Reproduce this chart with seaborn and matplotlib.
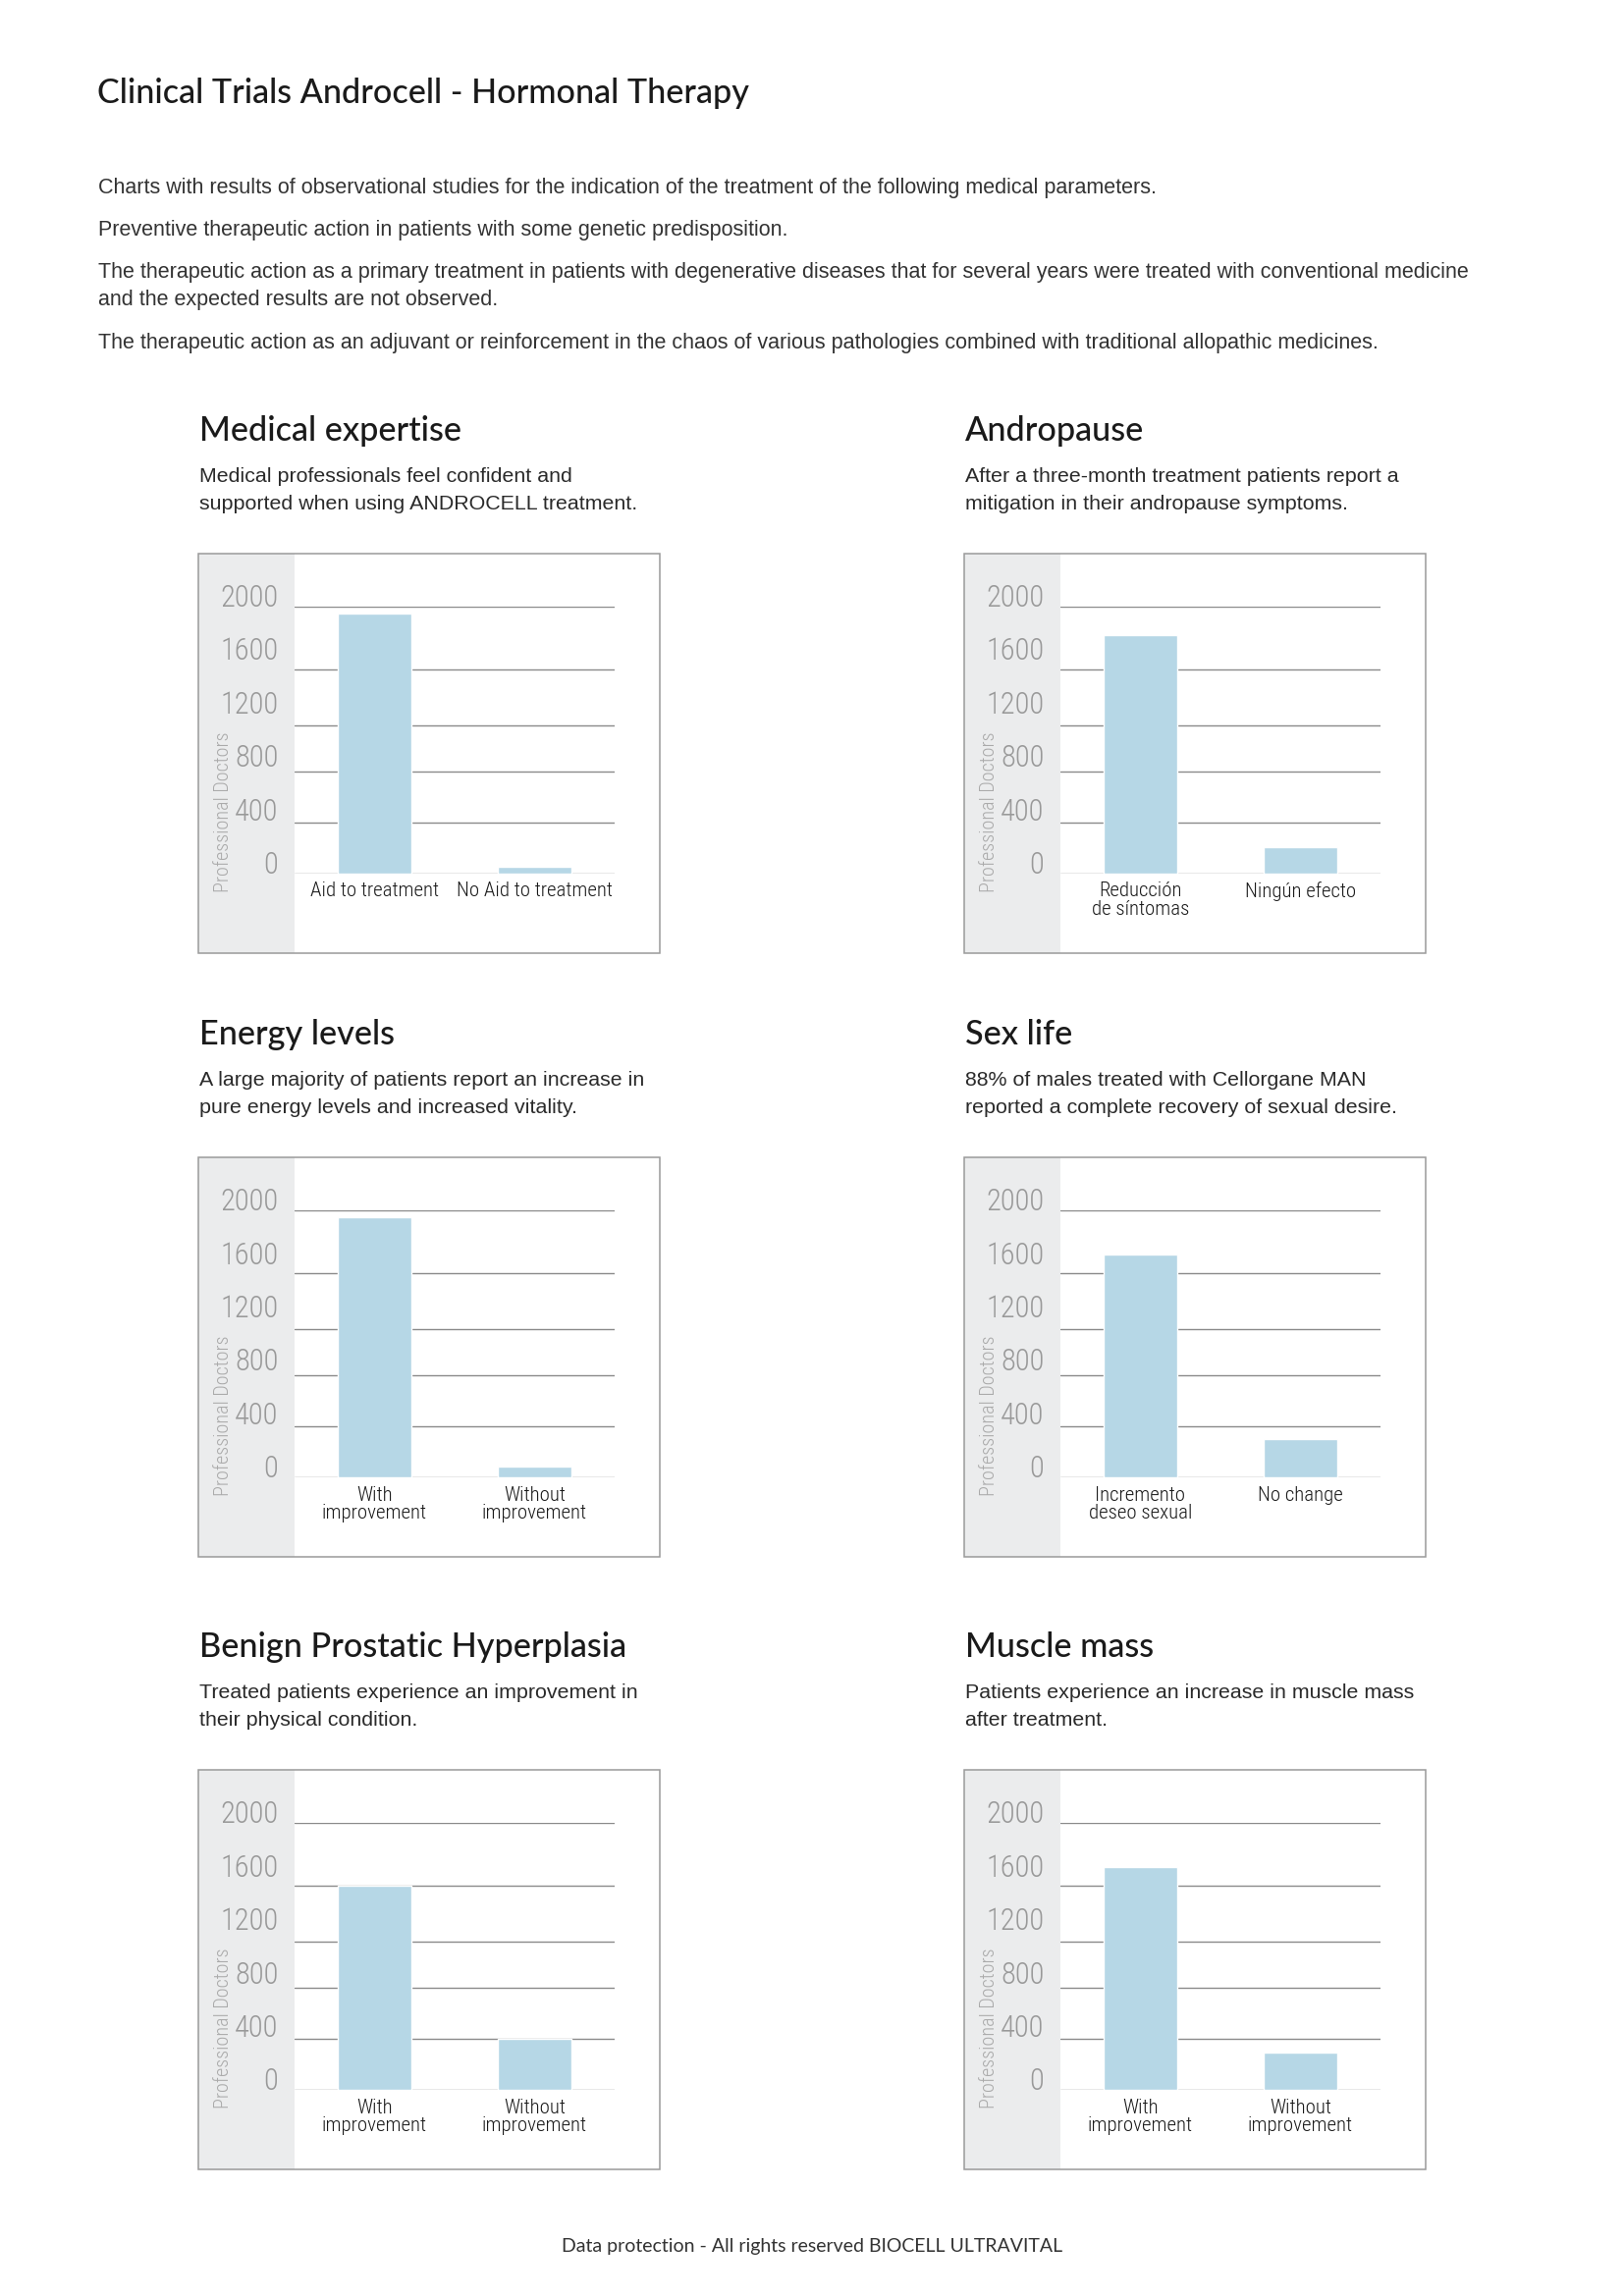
import os
import seaborn as sns
import matplotlib.pyplot as plt
from matplotlib.patches import Rectangle
from matplotlib import font_manager
from matplotlib.font_manager import FontProperties

# Daten der sechs Diagramme
panel_titles = ["Medical expertise", "Andropause", "Energy levels",
                "Sex life", "Benign Prostatic Hyperplasia", "Muscle mass"]
panel_notes = [
    "Medical professionals feel confident and\nsupported when using ANDROCELL treatment.",
    "After a three-month treatment patients report a\nmitigation in their andropause symptoms.",
    "A large majority of patients report an increase in\npure energy levels and increased vitality.",
    "88% of males treated with Cellorgane MAN\nreported a complete recovery of sexual desire.",
    "Treated patients experience an improvement in\ntheir physical condition.",
    "Patients experience an increase in muscle mass\nafter treatment.",
]
categories = [
    ["Aid to treatment", "No Aid to treatment"],
    ["Reducción\nde síntomas", "Ningún efecto"],
    ["With\nimprovement", "Without\nimprovement"],
    ["Incremento\ndeseo sexual", "No change"],
    ["With\nimprovement", "Without\nimprovement"],
    ["With\nimprovement", "Without\nimprovement"],
]
values = [
    [1948, 52],
    [1789, 201],
    [1949, 81],
    [1669, 287],
    [1530, 386],
    [1670, 283],
]
y_ticks = [0, 400, 800, 1200, 1600, 2000]
grid_levels = [0, 383, 765, 1110, 1529, 2000]
y_title = "Professional Doctors"

title = "Clinical Trials Androcell - Hormonal Therapy"
intro = [
    "Charts with results of observational studies for the indication of the treatment of the following medical parameters.",
    "Preventive therapeutic action in patients with some genetic predisposition.",
    "The therapeutic action as a primary treatment in patients with degenerative diseases that for several years were treated with conventional medicine",
    "and the expected results are not observed.",
    "The therapeutic action as an adjuvant or reinforcement in the chaos of various pathologies combined with traditional allopathic medicines.",
]
footer = "Data protection - All rights reserved BIOCELL ULTRAVITAL"

sns.set_style("white")
plt.rcParams["font.family"] = ["Liberation Sans", "DejaVu Sans"]


# schmale Schrift suchen (falls installiert)
def find_condensed(light):
    best, best_score = None, -99
    for f in font_manager.fontManager.ttflist:
        tag = (os.path.basename(f.fname) + " " + f.name).lower()
        if any(k in tag for k in ("italic", "oblique", "mono", "serif", "bold",
                                  "black", "cjk", "thin", "extralight", "heavy")):
            continue
        cond = ("narrow" in tag or "condensed" in tag or "cond" in tag
                or str(f.stretch) in ("condensed", "semi-condensed", "extra-condensed"))
        if not cond:
            continue
        score = 0
        if "narrow" in tag or "roboto" in tag:
            score += 3
        if "semi" in tag:
            score -= 1
        if "extra" in tag or "ultra" in tag:
            score -= 2
        is_light = "light" in tag
        is_mid = "medium" in tag
        if light and is_light:
            score += 2
        if not light and not is_light and not is_mid:
            score += 2
        if is_mid:
            score -= 1
        if score > best_score:
            best, best_score = f.fname, score
    return best


f_light = find_condensed(True)
shrink = 1.0 if f_light else 0.8


def cprop(path, size):
    if path:
        return FontProperties(fname=path, size=size)
    return FontProperties(family="DejaVu Sans", size=size * shrink)


tick_fp = cprop(f_light, 22)
cat_fp = cprop(f_light, 15)
ylab_fp = cprop(f_light, 14.5)

W, H = 1654, 2339
fig = plt.figure(figsize=(W / 100, H / 100), dpi=100)


def fx(x):
    return x / W


def fy(y):
    return 1 - y / H


bar_color = "#b6d7e6"
strip_color = "#ebeced"
frame_color = "#9a9a9a"

# Kopfbereich
fig.text(fx(99), fy(105), title, family="Lato", fontweight="medium", fontsize=24.6,
         color="#1a1a1a", va="baseline")
for txt, yb in zip(intro, [197, 240, 283, 311, 355]):
    fig.text(fx(100), fy(yb), txt, fontsize=15.5, color="#333333", va="baseline")

col_x = [201.7, 981.7]
row_y = [564, 1179.3, 1803.3]
box_w, box_h = 470, 407
strip_w = 98.3

for i in range(6):
    bx = col_x[i % 2]
    by = row_y[i // 2]

    fig.text(fx(bx + 1), fy(by - 115), panel_titles[i], family="Lato", fontweight="medium",
             fontsize=24.7, color="#1a1a1a", va="baseline")
    lines = panel_notes[i].split("\n")
    for k, ln in enumerate(lines):
        fig.text(fx(bx + 1), fy(by - 73 + 28 * k), ln, fontsize=15.4,
                 color="#2a2a2a", va="baseline")

    # Rahmen und grauer Streifen
    fig.patches.append(Rectangle((fx(bx), fy(by + box_h)), strip_w / W, box_h / H,
                                 transform=fig.transFigure, facecolor=strip_color,
                                 edgecolor="none", zorder=-2))
    fig.patches.append(Rectangle((fx(bx), fy(by + box_h)), box_w / W, box_h / H,
                                 transform=fig.transFigure, facecolor="none",
                                 edgecolor=frame_color, linewidth=1.1, zorder=-1))

    ax = fig.add_axes([fx(bx + strip_w), fy(by + 326), 325.7 / W, 272 / H])
    ax.set_facecolor("none")
    sns.barplot(x=categories[i], y=values[i], color=bar_color, saturation=1,
                width=0.46, ax=ax, zorder=2)
    for g in grid_levels:
        ax.axhline(g, color="#8a8a8a", linewidth=1.0, zorder=1)
    ax.set_xlim(-0.5, 1.5)
    ax.set_ylim(0, 2000)
    ax.set_yticks(y_ticks)
    ax.set_yticklabels([str(t) for t in y_ticks])
    for s in ax.spines.values():
        s.set_visible(False)
    ax.tick_params(axis="y", length=0, pad=12, labelcolor="#999999")
    ax.tick_params(axis="x", length=0, pad=6, labelcolor="#1a1a1a")
    plt.setp(ax.get_yticklabels(), fontproperties=tick_fp, va="baseline")
    plt.setp(ax.get_xticklabels(), fontproperties=cat_fp, linespacing=0.95)
    ax.set_xlabel("")
    ax.set_ylabel(y_title, fontproperties=ylab_fp, color="#aaaaaa", va="baseline")
    ax.yaxis.set_label_coords(-0.205, 0.232)

fig.text(0.5, fy(2294), footer, family="Lato", fontsize=14,
         color="#333333", ha="center", va="baseline")

plt.savefig("out.png", dpi=100)
